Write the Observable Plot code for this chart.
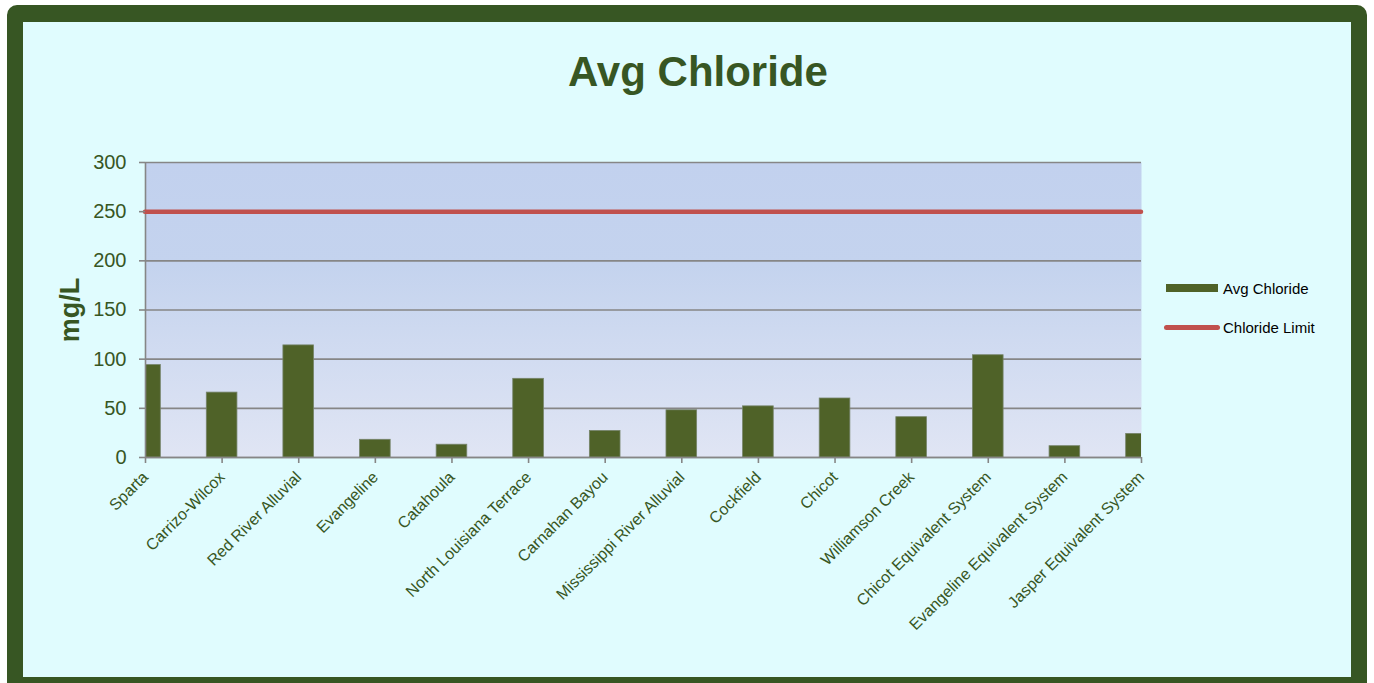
<!DOCTYPE html>
<html>
<head>
<meta charset="utf-8">
<script src="https://cdn.jsdelivr.net/npm/d3@7"></script>
<script src="https://cdn.jsdelivr.net/npm/@observablehq/plot@0.6"></script>
<style>
  html, body { margin: 0; padding: 0; background: #ffffff; width: 1374px; height: 683px; overflow: hidden; font-family: "Liberation Sans", Arial, sans-serif; }
  #frame { position: absolute; left: 7px; top: 5px; width: 1328px; height: 655px; border: 16px solid #375623; border-top-width: 17px; border-radius: 10px; background: #E0FCFE; }
  #chart { position: absolute; left: 0; top: 0; }
  #title { position: absolute; left: 498px; width: 400px; top: 51px; text-align: center; font-size: 42px; line-height: 42px; font-weight: bold; color: #375623; }
  .leg { position: absolute; font-size: 15px; line-height: 15px; color: #000; }
  .sw { position: absolute; }
</style>
</head>
<body>
<div id="frame"></div>
<div id="chart"></div>
<div id="title">Avg Chloride</div>
<div class="sw" style="left:1166px; top:284px; width:52px; height:8px; background:#4F6228;"></div>
<div class="leg" style="left:1223px; top:281px;">Avg Chloride</div>
<div class="sw" style="left:1164px; top:325px; width:56px; height:5px; border-radius:3px; background:#C0504D;"></div>
<div class="leg" style="left:1223px; top:320px;">Chloride Limit</div>
<script>
const categories = ["Sparta", "Carrizo-Wilcox", "Red River Alluvial", "Evangeline", "Catahoula",
  "North Louisiana Terrace", "Carnahan Bayou", "Mississippi River Alluvial", "Cockfield", "Chicot",
  "Williamson Creek", "Chicot Equivalent System", "Evangeline Equivalent System", "Jasper Equivalent System"];
const avgChloride = [94, 66, 114, 18, 13, 80, 27, 48, 52, 60, 41, 104, 11.5, 24];
const chlorideLimit = 250;
const yTicks = [0, 50, 100, 150, 200, 250, 300];

const data = categories.map((c, i) => ({i, category: c, value: avgChloride[i]}));
const half = 0.2;

const green = "#375623";
const grey = "#868686";

const svg = Plot.plot({
  width: 1374,
  height: 683,
  marginLeft: 145,
  marginRight: 233,
  marginTop: 162,
  marginBottom: 226,
  style: {background: "transparent", fontFamily: "'Liberation Sans', Arial, sans-serif", overflow: "visible"},
  x: {type: "linear", domain: [0, categories.length - 1]},
  y: {domain: [0, 300]},
  marks: [
    Plot.frame({fill: "url(#bgGrad)", stroke: null}),
    Plot.gridY(yTicks, {stroke: grey, strokeOpacity: 1, strokeWidth: 1.6}),
    Plot.rectY(data, {x1: d => d.i - half, x2: d => d.i + half, y1: 0, y2: "value", fill: "#4F6228", stroke: "#76846a", strokeWidth: 0.8, clip: true}),
    Plot.ruleX([0], {stroke: grey, strokeWidth: 1.6}),
    Plot.ruleY([0], {stroke: grey, strokeWidth: 1.6}),
    Plot.ruleY([chlorideLimit], {x1: 0, x2: categories.length - 1, stroke: "#C0504D", strokeWidth: 4.5, strokeLinecap: "round"}),
    Plot.axisY(yTicks, {tickSize: 6, tickPadding: 13, stroke: grey, strokeWidth: 1.6, fill: green, fontSize: 20, label: null}),
    Plot.axisX(d3.range(categories.length), {tickSize: 6, tickPadding: 11, tickRotate: -45, tickFormat: i => categories[i], stroke: grey, strokeWidth: 1.6, fill: green, fontSize: 16, label: null}),
    Plot.text(["mg/L"], {frameAnchor: "left", textAnchor: "middle", dx: -75, rotate: -90, fontSize: 27, fontWeight: "bold", fill: green})
  ]
});
svg.insertAdjacentHTML("afterbegin", `<defs><linearGradient id="bgGrad" x1="0" y1="0" x2="0" y2="1">
  <stop offset="0" stop-color="#C2D1EE"/><stop offset="0.35" stop-color="#C4D3EE"/><stop offset="1" stop-color="#E0E5F4"/></linearGradient></defs>`);
document.getElementById("chart").appendChild(svg);
</script>
</body>
</html>
